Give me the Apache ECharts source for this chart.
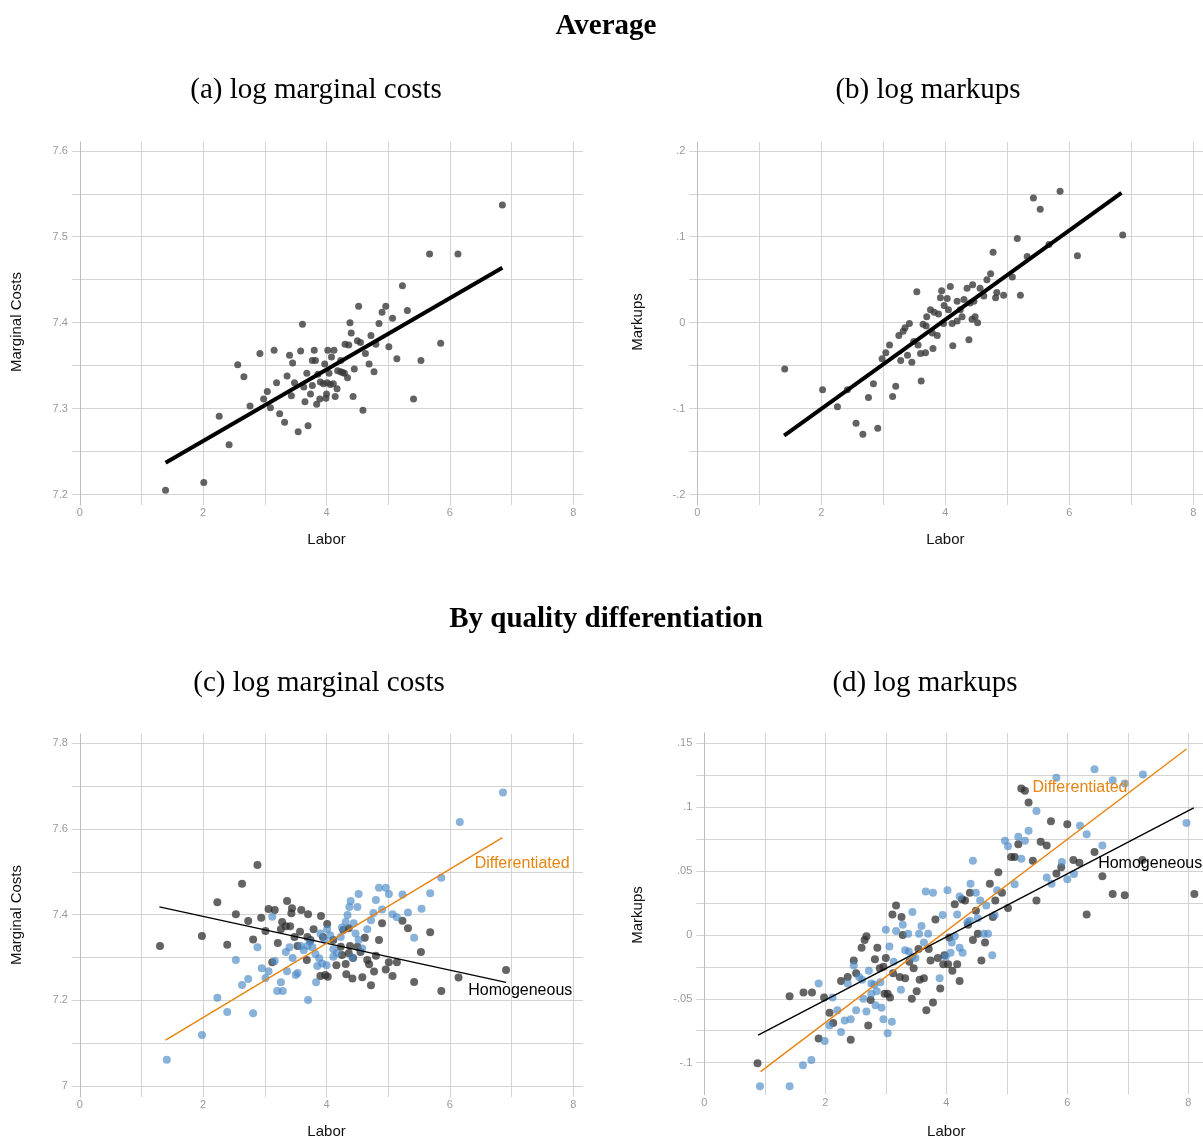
<!DOCTYPE html>
<html>
<head>
<meta charset="utf-8">
<script src="https://cdn.jsdelivr.net/npm/echarts@6/dist/echarts.min.js"></script>
<style>
  html, body { margin: 0; padding: 0; background: #fff; }
  #chart { width: 1203px; height: 1139px; }
</style>
</head>
<body>
<div id="chart"></div>
<script>
// (a) average log marginal costs vs labor
var mcAvgPoints = [
  [1.39,7.205],[2.01,7.214],[2.26,7.291],[2.42,7.258],[2.56,7.351],[2.66,7.337],[2.76,7.303],[2.92,7.364],
  [2.98,7.311],[3.04,7.320],[3.09,7.301],[3.15,7.368],[3.19,7.330],[3.24,7.294],[3.32,7.284],[3.36,7.338],
  [3.40,7.362],[3.43,7.315],[3.45,7.353],[3.48,7.330],[3.54,7.273],[3.58,7.367],[3.61,7.398],[3.63,7.325],
  [3.65,7.308],[3.68,7.341],[3.70,7.280],[3.74,7.317],[3.77,7.356],[3.77,7.327],[3.80,7.368],[3.82,7.356],
  [3.84,7.305],[3.86,7.340],[3.89,7.311],[3.90,7.331],[3.95,7.329],[3.97,7.352],[3.99,7.312],[4.00,7.317],
  [4.01,7.330],[4.02,7.368],[4.04,7.341],[4.06,7.328],[4.08,7.360],[4.11,7.329],[4.12,7.368],[4.14,7.314],
  [4.17,7.323],[4.18,7.344],[4.23,7.356],[4.23,7.343],[4.26,7.342],[4.29,7.341],[4.30,7.375],[4.34,7.336],
  [4.36,7.374],[4.38,7.400],[4.40,7.388],[4.43,7.314],[4.45,7.346],[4.50,7.379],[4.52,7.419],[4.55,7.377],
  [4.59,7.298],[4.63,7.364],[4.69,7.352],[4.72,7.385],[4.77,7.343],[4.80,7.375],[4.85,7.399],[4.90,7.412],
  [4.96,7.419],[5.01,7.372],[5.07,7.405],[5.14,7.358],[5.23,7.443],[5.31,7.414],[5.41,7.311],[5.53,7.356],
  [5.67,7.480],[5.85,7.376],[6.13,7.480],[6.85,7.537]
]
var mcAvgFit = [[1.39,7.237],[6.85,7.464]]

// (b) average log markups vs labor
var mkAvgPoints = [
  [1.41,-0.054],[2.02,-0.078],[2.26,-0.098],[2.42,-0.078],[2.56,-0.117],[2.67,-0.130],[2.76,-0.087],[2.84,-0.071],
  [2.91,-0.123],[2.98,-0.042],[3.04,-0.035],[3.10,-0.026],[3.15,-0.086],[3.20,-0.074],[3.25,-0.015],[3.28,-0.044],
  [3.32,-0.010],[3.35,-0.006],[3.39,-0.038],[3.42,-0.001],[3.46,-0.046],[3.49,-0.022],[3.54,0.036],[3.56,-0.026],
  [3.60,-0.036],[3.61,-0.068],[3.64,-0.002],[3.68,-0.035],[3.69,-0.004],[3.70,0.007],[3.76,0.015],[3.79,-0.012],
  [3.80,-0.030],[3.82,0.012],[3.87,-0.015],[3.89,0.010],[3.92,0.029],[3.94,0.037],[3.97,-0.001],[3.98,0.020],
  [4.03,0.028],[4.05,0.015],[4.08,0.042],[4.11,-0.001],[4.12,-0.027],[4.19,0.002],[4.19,0.025],[4.24,0.015],
  [4.27,0.007],[4.30,0.027],[4.35,0.040],[4.38,-0.020],[4.40,0.023],[4.43,0.004],[4.44,0.044],[4.46,0.025],
  [4.48,0.007],[4.52,0.000],[4.56,0.040],[4.62,0.031],[4.67,0.050],[4.73,0.057],[4.77,0.082],[4.81,0.029],
  [4.83,0.035],[4.94,0.032],[5.08,0.053],[5.16,0.098],[5.21,0.032],[5.32,0.077],[5.42,0.145],[5.53,0.132],
  [5.67,0.091],[5.85,0.153],[6.13,0.078],[6.86,0.102]
]
var mkAvgFit = [[1.40,-0.1315],[6.84,0.151]]

// (c) log marginal costs by differentiation
var mcHomogPoints = [
  [1.30,7.327],[1.98,7.350],[2.23,7.429],[2.39,7.330],[2.53,7.401],[2.63,7.472],[2.73,7.385],[2.81,7.342],
  [2.88,7.516],[2.94,7.393],[3.01,7.362],[3.06,7.413],[3.12,7.289],[3.16,7.411],[3.21,7.334],[3.26,7.366],
  [3.28,7.383],[3.34,7.373],[3.36,7.432],[3.41,7.373],[3.43,7.403],[3.44,7.415],[3.48,7.348],[3.53,7.327],
  [3.57,7.360],[3.59,7.411],[3.68,7.294],[3.69,7.348],[3.70,7.401],[3.74,7.341],[3.79,7.366],[3.90,7.257],
  [3.91,7.397],[3.94,7.348],[3.98,7.259],[4.01,7.378],[4.02,7.255],[4.11,7.341],[4.16,7.282],[4.23,7.325],
  [4.25,7.306],[4.27,7.364],[4.31,7.285],[4.32,7.261],[4.36,7.310],[4.36,7.368],[4.38,7.327],[4.42,7.251],
  [4.43,7.299],[4.50,7.325],[4.55,7.313],[4.58,7.254],[4.62,7.346],[4.66,7.294],[4.69,7.284],[4.72,7.235],
  [4.77,7.267],[4.80,7.304],[4.85,7.341],[4.90,7.380],[4.96,7.272],[5.01,7.289],[5.07,7.257],[5.14,7.289],
  [5.23,7.386],[5.32,7.368],[5.42,7.243],[5.53,7.313],[5.68,7.359],[5.86,7.222],[6.14,7.253],[6.91,7.271]
]
var mcDiffPoints = [
  [1.41,7.061],[1.98,7.119],[2.23,7.206],[2.39,7.173],[2.53,7.294],[2.63,7.236],[2.73,7.250],[2.81,7.170],
  [2.88,7.324],[2.95,7.275],[3.01,7.252],[3.06,7.268],[3.12,7.395],[3.16,7.292],[3.20,7.222],[3.26,7.242],
  [3.29,7.222],[3.34,7.313],[3.36,7.268],[3.40,7.324],[3.45,7.299],[3.50,7.259],[3.53,7.264],[3.58,7.327],
  [3.63,7.317],[3.69,7.327],[3.70,7.201],[3.73,7.337],[3.77,7.324],[3.82,7.308],[3.83,7.242],[3.85,7.280],
  [3.88,7.298],[3.90,7.356],[3.93,7.286],[3.97,7.341],[4.00,7.282],[4.01,7.366],[4.06,7.352],[4.11,7.319],
  [4.11,7.302],[4.17,7.310],[4.23,7.348],[4.25,7.370],[4.31,7.383],[4.34,7.399],[4.37,7.418],[4.39,7.432],
  [4.42,7.300],[4.44,7.380],[4.47,7.356],[4.50,7.418],[4.52,7.448],[4.52,7.341],[4.58,7.321],[4.66,7.366],
  [4.72,7.387],[4.76,7.404],[4.80,7.434],[4.85,7.463],[4.90,7.412],[4.96,7.463],[5.01,7.448],[5.07,7.401],
  [5.14,7.394],[5.23,7.447],[5.32,7.405],[5.42,7.346],[5.54,7.414],[5.68,7.450],[5.86,7.486],[6.16,7.616],
  [6.86,7.685]
]
var mcHomogFit = [[1.29,7.418],[6.91,7.242]]
var mcDiffFit = [[1.39,7.107],[6.85,7.580]]

// (d) log markups by differentiation
var mkHomogPoints = [
  [0.88,-0.1005],[1.41,-0.048],[1.64,-0.045],[1.78,-0.045],[1.89,-0.081],[1.98,-0.049],[2.07,-0.061],[2.13,-0.069],
  [2.26,-0.036],[2.37,-0.033],[2.42,-0.082],[2.47,-0.020],[2.51,-0.030],[2.60,-0.010],[2.65,-0.004],[2.68,-0.001],
  [2.71,-0.071],[2.75,-0.051],[2.82,-0.019],[2.86,-0.010],[2.90,-0.026],[2.96,-0.025],[2.98,-0.046],[3.00,-0.018],
  [3.03,-0.046],[3.07,-0.049],[3.11,0.016],[3.12,-0.030],[3.17,0.023],[3.23,-0.033],[3.26,0.014],[3.28,0.000],
  [3.32,-0.034],[3.39,-0.021],[3.43,-0.050],[3.46,-0.026],[3.51,-0.044],[3.54,-0.011],[3.56,-0.035],[3.63,-0.034],
  [3.67,-0.059],[3.71,-0.011],[3.74,-0.020],[3.78,-0.053],[3.82,0.012],[3.86,-0.018],[3.90,-0.042],[3.95,-0.023],
  [3.97,-0.016],[4.03,-0.023],[4.05,-0.002],[4.10,-0.028],[4.14,0.024],[4.18,-0.023],[4.22,-0.036],[4.26,0.028],
  [4.31,0.027],[4.36,0.008],[4.39,0.033],[4.44,-0.004],[4.49,0.019],[4.52,0.001],[4.58,-0.020],[4.64,-0.006],
  [4.72,0.040],[4.77,0.014],[4.81,0.027],[4.86,0.049],[4.92,0.033],[5.02,0.021],[5.07,0.061],[5.13,0.061],
  [5.19,0.071],[5.24,0.1146],[5.30,0.1128],[5.36,0.1036],[5.43,0.058],[5.49,0.027],[5.56,0.073],[5.66,0.070],
  [5.73,0.089],[5.82,0.048],[5.90,0.053],[6.00,0.0867],[6.10,0.0586],[6.20,0.0565],[6.32,0.016],[6.45,0.065],
  [6.58,0.046],[6.75,0.032],[6.95,0.031],[7.24,0.0586],[8.10,0.032]
]
var mkDiffPoints = [
  [0.92,-0.1185],[1.41,-0.1185],[1.63,-0.102],[1.77,-0.098],[1.89,-0.038],[1.99,-0.083],[2.07,-0.071],[2.12,-0.049],
  [2.20,-0.059],[2.26,-0.076],[2.32,-0.067],[2.37,-0.038],[2.42,-0.066],[2.47,-0.024],[2.51,-0.059],[2.56,-0.033],
  [2.61,-0.035],[2.63,-0.050],[2.68,-0.060],[2.72,-0.028],[2.76,-0.046],[2.76,-0.038],[2.81,-0.039],[2.83,-0.055],
  [2.85,-0.044],[2.91,-0.037],[2.93,-0.057],[2.96,-0.066],[3.00,0.004],[3.03,-0.077],[3.06,-0.009],[3.10,-0.068],
  [3.13,-0.021],[3.17,0.003],[3.25,-0.043],[3.28,0.008],[3.32,-0.012],[3.37,0.001],[3.38,-0.013],[3.44,0.018],
  [3.44,-0.017],[3.49,-0.018],[3.55,0.001],[3.59,0.007],[3.63,-0.006],[3.66,0.034],[3.70,0.001],[3.78,0.033],
  [3.89,-0.034],[3.94,0.0156],[3.99,-0.017],[4.02,0.035],[4.07,-0.014],[4.09,-0.006],[4.14,-0.001],[4.18,0.016],
  [4.22,-0.010],[4.22,0.030],[4.27,-0.014],[4.35,0.010],[4.39,0.011],[4.40,0.040],[4.44,0.058],[4.49,0.033],
  [4.52,0.013],[4.56,0.027],[4.62,0.001],[4.66,0.023],[4.69,0.001],[4.76,-0.016],[4.80,0.0156],[4.84,0.035],
  [4.97,0.0737],[5.02,0.0695],[5.13,0.0396],[5.19,0.0768],[5.24,0.0596],[5.30,0.0737],[5.36,0.0815],[5.49,0.097],
  [5.66,0.045],[5.74,0.040],[5.82,0.123],[5.91,0.057],[6.00,0.0435],[6.11,0.0477],[6.21,0.0854],[6.32,0.0789],
  [6.45,0.1297],[6.58,0.070],[6.75,0.121],[6.95,0.1185],[7.25,0.1255],[7.97,0.0877]
]
var mkHomogFit = [[0.89,-0.0785],[8.09,0.0994]]
var mkDiffFit = [[0.93,-0.107],[7.97,0.1455]]

var sans = '"Liberation Sans", Arial, sans-serif'
var serif = '"Liberation Serif", "Times New Roman", serif'
var gridColor = '#d3d3d3'
var axisColor = '#bcbcbc'
var tickColor = '#9a9a9a'
var dark = 'rgba(45,45,45,0.92)'
var blue = 'rgba(74,138,198,0.82)'
var orange = '#e8830f'

var option = {
    animation: false,
    backgroundColor: '#fff',
    grid: [], xAxis: [], yAxis: [], series: [], graphic: []
}

//刻度文字：只显示整格
function tickFmt(step) {
    return function (v) {
        var r = v / step
        if (Math.abs(r - Math.round(r)) > 1e-6) return ''
        return String(+v.toFixed(3)).replace(/^(-?)0\./, '$1.')
    }
}

function evenFmt(v) {
    var r = Math.round(v)
    if (Math.abs(v - r) > 1e-6 || r % 2 !== 0) return ''
    return String(r)
}

//每个小图两个grid：外框(竖线+x刻度) 和 数值区(横线+y刻度+数据)
function addPanel(p) {
    var width = p.xRight - p.x0
    var xMax = 8 * width / (p.x8 - p.x0)
    var gi = option.grid.length
    option.grid.push({left: p.x0, top: p.frameTop, width: width, height: p.frameBot - p.frameTop, containLabel: false, outerBoundsMode: 'none'})
    option.xAxis.push({
        gridIndex: gi, type: 'value', min: 0, max: xMax, interval: 1,
        axisLine: {show: false}, axisTick: {show: false},
        axisLabel: {formatter: evenFmt, margin: p.xLabelMargin, color: tickColor, fontSize: 11, fontFamily: sans, showMaxLabel: false},
        splitLine: {show: true, showMaxLine: false, lineStyle: {color: gridColor, width: 1}}
    })
    option.yAxis.push({
        gridIndex: gi, type: 'value', min: 0, max: 1,
        axisLine: {show: true, lineStyle: {color: axisColor, width: 1}},
        axisTick: {show: false}, axisLabel: {show: false}, splitLine: {show: false}
    })
    option.grid.push({left: p.x0, top: p.yTopPx, width: width, height: p.yBotPx - p.yTopPx, containLabel: false, outerBoundsMode: 'none'})
    option.xAxis.push({gridIndex: gi + 1, type: 'value', min: 0, max: xMax, show: false})
    option.yAxis.push({
        gridIndex: gi + 1, type: 'value', min: p.yBot, max: p.yTop, interval: p.step,
        axisLine: {show: false},
        axisTick: {show: true, length: 8, lineStyle: {color: gridColor}},
        axisLabel: {formatter: tickFmt(p.labelStep), margin: 12, color: tickColor, fontSize: 11, fontFamily: sans, showMinLabel: !p.noMinLine},
        splitLine: {show: true, showMinLine: !p.noMinLine, lineStyle: {color: gridColor, width: 1}}
    })
    //坐标轴名
    option.graphic.push({
        type: 'text', x: p.yNameX, y: p.yNameY, rotation: Math.PI / 2,
        style: {text: p.yName, font: '15px ' + sans, fill: '#111', align: 'center', verticalAlign: 'middle', textAlign: 'center', textVerticalAlign: 'middle'}
    })
    option.graphic.push({
        type: 'text', x: p.x0 + 4 * (p.x8 - p.x0) / 8, y: p.xNameY,
        style: {text: 'Labor', font: '15px ' + sans, fill: '#111', align: 'center', verticalAlign: 'middle', textAlign: 'center', textVerticalAlign: 'middle'}
    })
    return gi + 1
}

function heading(text, x, y, bold) {
    option.graphic.push({
        type: 'text', x: x, y: y,
        style: {text: text, font: (bold ? 'bold ' : '') + '29px ' + serif, fill: '#000', align: 'center', verticalAlign: 'middle', textAlign: 'center', textVerticalAlign: 'middle'}
    })
}

function scatter(ai, data, color, size) {
    option.series.push({type: 'scatter', xAxisIndex: ai, yAxisIndex: ai, data: data, symbolSize: size, itemStyle: {color: color}, z: 2, silent: true})
}

function fitLine(ai, data, color, width, label) {
    var s = {type: 'line', xAxisIndex: ai, yAxisIndex: ai, data: data, symbol: 'none', showSymbol: false,
        lineStyle: {color: color, width: width}, z: 3, silent: true}
    if (label) {
        s.markPoint = {
            symbol: 'circle', symbolSize: 0, silent: true,
            data: [{coord: label.coord, label: {show: true, position: 'inside', formatter: label.text, color: color, fontSize: 16, fontFamily: sans}}]
        }
    }
    option.series.push(s)
}

heading('Average', 606, 27, true)
heading('(a) log marginal costs', 316, 90, false)
heading('(b) log markups', 928, 90, false)
heading('By quality differentiation', 606, 620, true)
heading('(c) log marginal costs', 319, 683, false)
heading('(d) log markups', 925, 683, false)

var pa = addPanel({x0: 79.8, x8: 573.3, xRight: 583, yTopPx: 150.8, yBotPx: 494.5, yTop: 7.6, yBot: 7.2, step: 0.05, labelStep: 0.1,
    frameTop: 142, frameBot: 505, xLabelMargin: 2, yName: 'Marginal Costs', yNameX: 17, yNameY: 322, xNameY: 540})
scatter(pa, mcAvgPoints, '#3b3b3b', 7)
fitLine(pa, mcAvgFit, '#000', 4)

var pb = addPanel({x0: 697.3, x8: 1193.4, xRight: 1203, yTopPx: 150.8, yBotPx: 494.5, yTop: 0.2, yBot: -0.2, step: 0.05, labelStep: 0.1,
    frameTop: 142, frameBot: 505, xLabelMargin: 2, yName: 'Markups', yNameX: 638, yNameY: 322, xNameY: 540})
scatter(pb, mkAvgPoints, '#3b3b3b', 7)
fitLine(pb, mkAvgFit, '#000', 4)

var pc = addPanel({x0: 79.8, x8: 573.3, xRight: 583, yTopPx: 743.3, yBotPx: 1086, yTop: 7.8, yBot: 7.0, step: 0.1, labelStep: 0.2,
    frameTop: 734, frameBot: 1097, xLabelMargin: 2, yName: 'Marginal Costs', yNameX: 17, yNameY: 915, xNameY: 1132})
scatter(pc, mcHomogPoints, dark, 8)
scatter(pc, mcDiffPoints, blue, 8)
fitLine(pc, mcHomogFit, '#000', 1.4, {text: 'Homogeneous', coord: [7.14, 7.222]})
fitLine(pc, mcDiffFit, orange, 1.4, {text: 'Differentiated', coord: [7.17, 7.520]})

var pd = addPanel({x0: 704.3, x8: 1188.3, xRight: 1203, yTopPx: 743.3, yBotPx: 1094.6, yTop: 0.15, yBot: -0.125, step: 0.025, labelStep: 0.05,
    noMinLine: true, frameTop: 733, frameBot: 1094.6, xLabelMargin: 3, yName: 'Markups', yNameX: 638, yNameY: 915, xNameY: 1132})
scatter(pd, mkHomogPoints, dark, 8)
scatter(pd, mkDiffPoints, blue, 8)
fitLine(pd, mkHomogFit, '#000', 1.4, {text: 'Homogeneous', coord: [7.37, 0.0555]})
fitLine(pd, mkDiffFit, orange, 1.4, {text: 'Differentiated', coord: [6.21, 0.1156]})

var chart = echarts.init(document.getElementById('chart'), null, {renderer: 'canvas'})
chart.setOption(option)
</script>
</body>
</html>
